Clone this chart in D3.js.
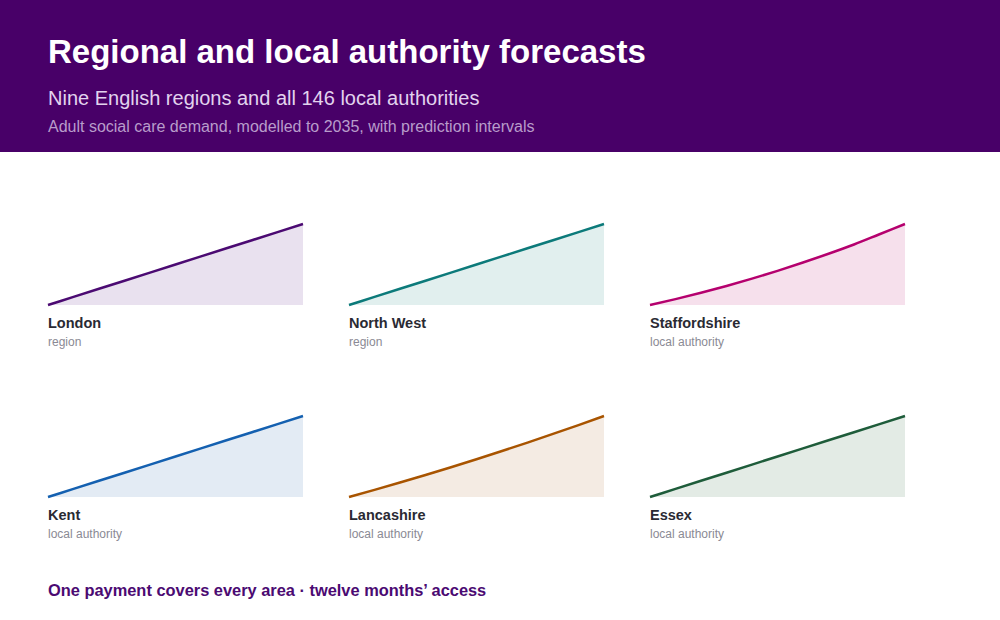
<!DOCTYPE html>
<html><head><meta charset="utf-8">
<script src="https://cdn.jsdelivr.net/npm/d3@7"></script>
<style>body{margin:0;background:#fff;font-family:"Liberation Sans",Arial,sans-serif;}</style>
</head><body>
<svg id="vis-svg" width="1000" height="620"></svg>
<script>
  // forecast index, 2025 to 2035 (normalised per panel)
  const years = d3.range(2025, 2036);
  const panels = [
    { name: 'London', kind: 'region', color: '#4b0a72', fill: '#e9e1ef', values: [100,104,108,112,116,120,124,128,132,136,140] },
    { name: 'North West', kind: 'region', color: '#0c7a7a', fill: '#e1efee', values: [100,103,106,109,112,115,118,121,124,127,130] },
    { name: 'Staffordshire', kind: 'local authority', color: '#b5006e', fill: '#f6e0ec', values: [100,106,112.5,119.5,127,135,143.5,152.5,162,172.5,183] },
    { name: 'Kent', kind: 'local authority', color: '#1460b0', fill: '#e3ebf4', values: [100,103.5,107,110.5,114,117.5,121,124.5,128,131.5,135] },
    { name: 'Lancashire', kind: 'local authority', color: '#a85400', fill: '#f4ebe3', values: [100,103.3,106.7,110.2,113.8,117.5,121.3,125.2,129.2,133.3,137.5] },
    { name: 'Essex', kind: 'local authority', color: '#1e5c3a', fill: '#e3ebe5', values: [100,103,106,109,112,115,118,121,124,127,130] }
  ];

  const svg = d3.select('#vis-svg');

  svg.append('rect').attr('width', 1000).attr('height', 152).attr('fill', '#480068');
  svg.append('text').attr('x', 48).attr('y', 63).text('Regional and local authority forecasts')
    .style('font-size', '33px').style('font-weight', 'bold').attr('fill', '#fff');
  svg.append('text').attr('x', 48).attr('y', 105).text('Nine English regions and all 146 local authorities')
    .style('font-size', '20px').attr('fill', '#e2d3ee');
  svg.append('text').attr('x', 48).attr('y', 132).text('Adult social care demand, modelled to 2035, with prediction intervals')
    .style('font-size', '16px').attr('fill', '#b89ccb');

  const w = 255, h = 81;
  const colX = [48, 349, 650], rowY = [224, 416];
  const x = d3.scaleLinear().domain(d3.extent(years)).range([0, w]);

  panels.forEach((p, i) => {
    const g = svg.append('g')
      .attr('transform', `translate(${colX[i % 3]}, ${rowY[Math.floor(i / 3)]})`);
    const y = d3.scaleLinear().domain(d3.extent(p.values)).range([h, 0]);
    const pts = years.map((yr, k) => ({ yr, v: p.values[k] }));
    g.append('path').datum(pts)
      .attr('d', d3.area().x(d => x(d.yr)).y0(h).y1(d => y(d.v)).curve(d3.curveMonotoneX))
      .attr('fill', p.fill);
    g.append('path').datum(pts)
      .attr('d', d3.line().x(d => x(d.yr)).y(d => y(d.v)).curve(d3.curveMonotoneX))
      .attr('fill', 'none').attr('stroke', p.color).attr('stroke-width', 2.5);
    g.append('text').attr('x', 0).attr('y', h + 23).text(p.name)
      .style('font-size', '14.5px').style('font-weight', 'bold').attr('fill', '#2a2a33');
    g.append('text').attr('x', 0).attr('y', h + 41).text(p.kind)
      .style('font-size', '12px').attr('fill', '#8a8a94');
  });

  svg.append('text').attr('x', 48).attr('y', 596)
    .text('One payment covers every area \u00b7 twelve months\u2019 access')
    .style('font-size', '16.4px').style('font-weight', 'bold').attr('fill', '#4b0a72');
</script>
</body></html>
